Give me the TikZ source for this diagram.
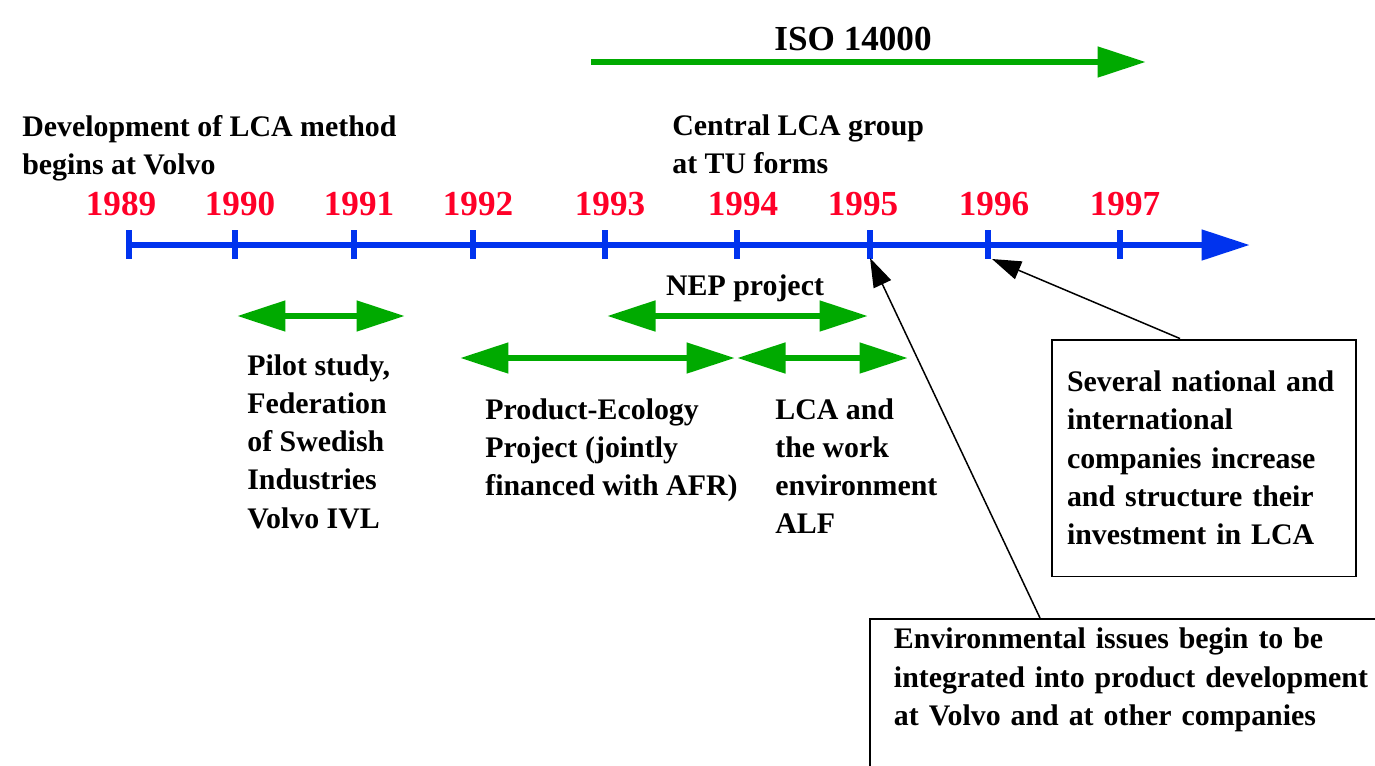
\documentclass[tikz,border=0pt]{standalone}
\usepackage{fontspec}
\setmainfont{Liberation Serif}
\usepackage{xcolor}
\usepackage{tikz}
\usetikzlibrary{arrows.meta,calc}
\definecolor{axisblue}{RGB}{0,51,238}
\definecolor{spangreen}{RGB}{0,170,0}
\definecolor{yearred}{RGB}{255,0,40}

\begin{document}
\begin{tikzpicture}[x=0.02cm, y=-0.02cm, font=\bfseries\fontsize{17}{21.8}\selectfont,
  >={Triangle[length=0.97cm,width=0.59cm]},
  txt/.style={anchor=north west, align=left, inner sep=0pt},
  yr/.style={anchor=base, text=yearred, font=\bfseries\fontsize{20}{24}\selectfont},
  span/.style={draw=spangreen, line width=3.7pt},
  ptr/.style={draw=black, line width=0.85pt, -{Triangle[length=0.58cm,width=0.38cm]}},
  note/.style={draw, line width=1.1pt, align=left, fill=white}]
  \useasboundingbox (0,0) rectangle (1375,765);
  \clip (0,0) rectangle (1375,765);
  \foreach \yr/\tx/\lx in {1989/129/121,1990/235/240,1991/354/359,1992/473/478,1993/605/610,
      1994/737/743,1995/870/863,1996/988/994,1997/1120/1125} {
    \coordinate (t\yr) at (\tx,245);
    \node[yr] (y\yr) at (\lx,215) {\yr};
  }
  \coordinate (axend) at (1250,245);
  \draw[axisblue, line width=3.7pt, ->] (t1989) -- (axend);
  \foreach \yr in {1989,...,1997}
    \draw[axisblue, line width=3.9pt] ($(t\yr)+(0,-15)$) -- ($(t\yr)+(0,14)$);
  \node[anchor=base, font=\bfseries\fontsize{20}{24}\selectfont] (iso) at (853,50) {ISO 14000};
  \draw[span, ->] (591,62) -- (1146,62);
  \node[txt] (dev) at (22,115) {Development of LCA method\\begins at Volvo};
  \node[txt] (tu) at (672,114) {Central LCA group\\at TU forms};
  \node[anchor=base] (nep) at (745,295) {NEP project};
  \draw[span, <->] (237,316) -- (405,316);
  \draw[span, <->] (607,316) -- (868,316);
  \draw[span, <->] (460,358) -- (735,358);
  \draw[span, <->] (737,358) -- (908,358);
  \node[txt] (pilot) at (247,354) {Pilot study,\\Federation\\of Swedish\\Industries\\Volvo IVL};
  \node[txt] (peco) at (485,398) {Product-Ecology\\Project (jointly\\financed with AFR)};
  \node[txt] (alf) at (775,398) {LCA and\\the work\\environment\\ALF};
  \node[note, text width=5.48cm, inner xsep=0.3cm, minimum height=4.74cm] (sev) at (1204,458)
    {Several national and\\international\\companies increase\\and structure their\\investment in LCA};
  \node[note, anchor=north west, text width=10cm, inner xsep=0.48cm, inner ysep=0.18cm] (env) at (869,618)
    {Environmental issues begin to be\\integrated into product development\\at Volvo and at other companies\\ \strut};
  \draw[ptr] ($(env.north west)+(171,0)$) -- ($(t1995)+(0,13)$);
  \draw[ptr] ($(sev.north)+(-24,0)$) -- ($(t1996)+(4,14)$);
\end{tikzpicture}
\end{document}
